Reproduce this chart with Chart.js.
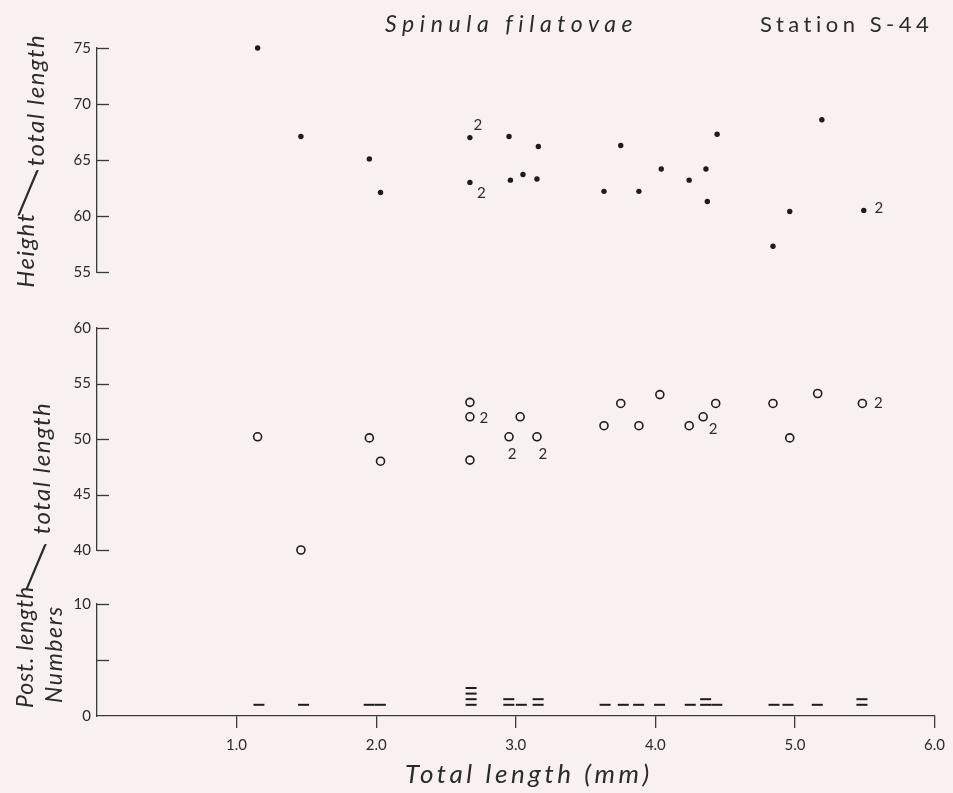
<!DOCTYPE html>
<html><head><meta charset="utf-8">
<script src="https://cdn.jsdelivr.net/npm/chart.js@4/dist/chart.umd.min.js"></script>
<style>
html,body{margin:0;padding:0;background:#f8f0f1;}
#wrap{position:relative;width:953px;height:793px;overflow:hidden;background:#f8f0f1;font-family:Lato,'Open Sans',sans-serif;color:#2b2b2b;}
.pane{position:absolute;left:0;width:953px;}
.t{position:absolute;white-space:nowrap;line-height:1;}
.r{transform:translate(-50%,-50%) rotate(-90deg);}
.c{transform:translate(-50%,-50%);}
.i{font-style:italic;}
.sl{font-family:Lato,sans-serif;font-weight:300;font-size:60px;}
</style></head><body>
<div id="wrap">
  <div class="pane" style="top:0;height:300px"><canvas id="cH"></canvas></div>
  <div class="pane" style="top:300px;height:280px"><canvas id="cP"></canvas></div>
  <div class="pane" style="top:580px;height:213px"><canvas id="cN"></canvas></div>

  <div class="t i" style="left:385px;top:12px;font-size:23px;letter-spacing:5.6px">Spinula filatovae</div>
  <div class="t" style="left:760px;top:13px;font-size:22px;letter-spacing:4.5px">Station S-44</div>
  <div class="t i" style="left:405px;top:760px;font-size:26px;letter-spacing:3.6px">Total length (mm)</div>

  <div class="t i r" style="left:25px;top:250px;font-size:24px;letter-spacing:1.5px">Height</div>
  <div class="t c sl" style="left:28px;top:190px">/</div>
  <div class="t i r" style="left:35px;top:100px;font-size:24px;letter-spacing:1.5px">total length</div>

  <div class="t i r" style="left:24px;top:647px;font-size:23px;letter-spacing:0.8px">Post. length</div>
  <div class="t c sl" style="left:36px;top:564px">/</div>
  <div class="t i r" style="left:41px;top:468px;font-size:24px;letter-spacing:1.5px">total length</div>
  <div class="t i r" style="left:53px;top:654px;font-size:23px;letter-spacing:1.6px">Numbers</div>
</div>
<script>
// ---- data ----
const heightX = [1.15,1.46,1.95,2.03,2.67,2.67,2.95,2.96,3.05,3.16,3.15,3.63,3.75,3.88,4.04,4.24,4.36,4.37,4.44,4.84,4.96,5.19,5.49];
const heightY = [75.0,67.1,65.1,62.1,67.0,63.0,67.1,63.2,63.7,66.2,63.3,62.2,66.3,62.2,64.2,63.2,64.2,61.3,67.3,57.3,60.4,68.6,60.5];

const postX = [1.15,1.46,1.95,2.03,2.67,2.67,2.67,2.95,3.03,3.15,3.63,3.75,3.88,4.03,4.24,4.34,4.43,4.84,4.96,5.16,5.48];
const postY = [50.2,40.0,50.1,48.0,53.3,52.0,48.1,50.2,52.0,50.2,51.2,53.2,51.2,54.0,51.2,52.0,53.2,53.2,50.1,54.1,53.2];

const numX     = [1.16,1.48,1.95,2.03,2.68,2.95,3.04,3.16,3.64,3.77,3.88,4.03,4.25,4.36,4.44,4.85,4.95,5.16,5.48];
const numCount = [1,1,1,1,4,2,1,2,1,1,1,1,1,2,1,1,1,1,2];

// points standing for two specimens ("2")
const dupHX = [2.67,2.68,5.49];
const dupHY = [67.0,63.0,60.5];
const dupPX = [2.67,2.95,3.15,4.34,5.48];
const dupPY = [52.0,50.2,50.2,52.0,53.2];

const xTicks = [0,1,2,3,4,5,6];
const hTicks = [55,60,65,70,75];
const pTicks = [40,45,50,55,60];
const nTicks = [0,5,10];
const nTickLabels = ['0','','10'];

// ---- styles ----
const FONT = 'Lato, "Open Sans", sans-serif';
const INK = '#1c1c1c';
const AXIS = '#3a3a3a';
const TEXT = '#2b2b2b';
const dupHOffsets = [[8,-12],[10,11],[15,-2]];
const dupPOffsets = [[14,1],[3,17],[6,17],[10,12],[16,0]];
const TALLY_BASE = 1, TALLY_STEP = 0.5;

Chart.defaults.font.family = FONT;
Chart.defaults.color = TEXT;

const inwardTicks = {
  id: 'inwardTicks',
  afterDraw(chart, args, opts) {
    const ys = chart.scales.y, ctx = chart.ctx;
    const x0 = chart.chartArea.left;
    ctx.save();
    ctx.strokeStyle = AXIS; ctx.lineWidth = 1.3;
    ys.ticks.forEach(t => {
      if (opts.skip && opts.skip.includes(t.value)) return;
      const py = Math.round(ys.getPixelForValue(t.value)) + 0.5;
      ctx.beginPath(); ctx.moveTo(x0, py); ctx.lineTo(x0 + 12, py); ctx.stroke();
    });
    ctx.restore();
  }
};

const dupLabels = {
  id: 'dupLabels',
  afterDatasetsDraw(chart, args, opts) {
    if (!opts.xs) return;
    const xs = chart.scales.x, ys = chart.scales.y, ctx = chart.ctx;
    ctx.save();
    ctx.font = '15px ' + FONT; ctx.fillStyle = TEXT;
    ctx.textAlign = 'center'; ctx.textBaseline = 'middle';
    opts.xs.forEach((v, i) => {
      const px = xs.getPixelForValue(v) + opts.offsets[i][0];
      const py = ys.getPixelForValue(opts.ys[i]) + opts.offsets[i][1];
      ctx.fillText('2', px, py);
    });
    ctx.restore();
  }
};

function yScale(ticks, labels) {
  return {
    type: 'linear', position: 'left',
    min: ticks[0], max: ticks[ticks.length - 1],
    afterBuildTicks: s => { s.ticks = ticks.map(v => ({ value: v })); },
    ticks: {
      padding: 6, color: TEXT, font: { size: 15, family: FONT },
      callback: (v, i) => labels ? labels[i] : String(v)
    },
    grid: { display: true, drawOnChartArea: false, drawTicks: false, color: 'rgba(0,0,0,0)' },
    border: { display: true, color: AXIS, width: 1.3 },
    afterFit: s => { s.width = 97; }
  };
}

function hiddenX() {
  return { type: 'linear', min: xTicks[0], max: xTicks[xTicks.length - 1], display: false };
}

function common(padTop, padBottom) {
  return {
    responsive: true, maintainAspectRatio: false, animation: false,
    layout: { padding: { top: padTop, bottom: padBottom, left: 0, right: 18 } },
    events: []
  };
}

// top panel
new Chart(document.getElementById('cH'), {
  type: 'scatter',
  data: { datasets: [{
    data: heightX.map((x, i) => ({ x, y: heightY[i] })),
    pointRadius: 2.7, pointBackgroundColor: INK, pointBorderWidth: 0, clip: false
  }] },
  options: Object.assign(common(48, 28), {
    scales: { x: hiddenX(), y: yScale(hTicks) },
    plugins: { legend: { display: false }, tooltip: { enabled: false },
      inwardTicks: {}, dupLabels: { xs: dupHX, ys: dupHY, offsets: dupHOffsets } }
  }),
  plugins: [inwardTicks, dupLabels]
});

// middle panel
new Chart(document.getElementById('cP'), {
  type: 'scatter',
  data: { datasets: [{
    data: postX.map((x, i) => ({ x, y: postY[i] })),
    pointRadius: 4, pointBackgroundColor: 'rgba(0,0,0,0)', pointBorderColor: INK, pointBorderWidth: 1.6, clip: false
  }] },
  options: Object.assign(common(28, 30), {
    scales: { x: hiddenX(), y: yScale(pTicks) },
    plugins: { legend: { display: false }, tooltip: { enabled: false },
      inwardTicks: {}, dupLabels: { xs: dupPX, ys: dupPY, offsets: dupPOffsets } }
  }),
  plugins: [inwardTicks, dupLabels]
});

// bottom panel (tally of specimens)
const tally = [];
numX.forEach((x, i) => { for (let k = 0; k < numCount[i]; k++) tally.push({ x, y: TALLY_BASE + TALLY_STEP * k }); });

new Chart(document.getElementById('cN'), {
  type: 'scatter',
  data: { datasets: [{
    data: tally,
    pointStyle: 'line', pointRadius: 5.5, pointBorderColor: INK, pointBorderWidth: 2, clip: false
  }] },
  options: Object.assign(common(24, 0), {
    scales: {
      x: {
        type: 'linear', position: 'bottom', min: xTicks[0], max: xTicks[xTicks.length - 1],
        afterBuildTicks: s => { s.ticks = xTicks.map(v => ({ value: v })); },
        ticks: { padding: 8, color: TEXT, font: { size: 15, family: FONT }, maxRotation: 0, autoSkip: false,
          callback: v => v === 0 ? '' : v.toFixed(1) },
        grid: { drawOnChartArea: false, drawTicks: true, tickLength: 12, lineWidth: 1.3,
          color: c => (c.tick && c.tick.value === 0) ? 'rgba(0,0,0,0)' : AXIS },
        border: { display: true, color: AXIS, width: 1.3 },
        afterFit: s => { s.height = 77; }
      },
      y: yScale(nTicks, nTickLabels)
    },
    plugins: { legend: { display: false }, tooltip: { enabled: false }, inwardTicks: { skip: [0] } }
  }),
  plugins: [inwardTicks]
});
</script>
</body></html>
